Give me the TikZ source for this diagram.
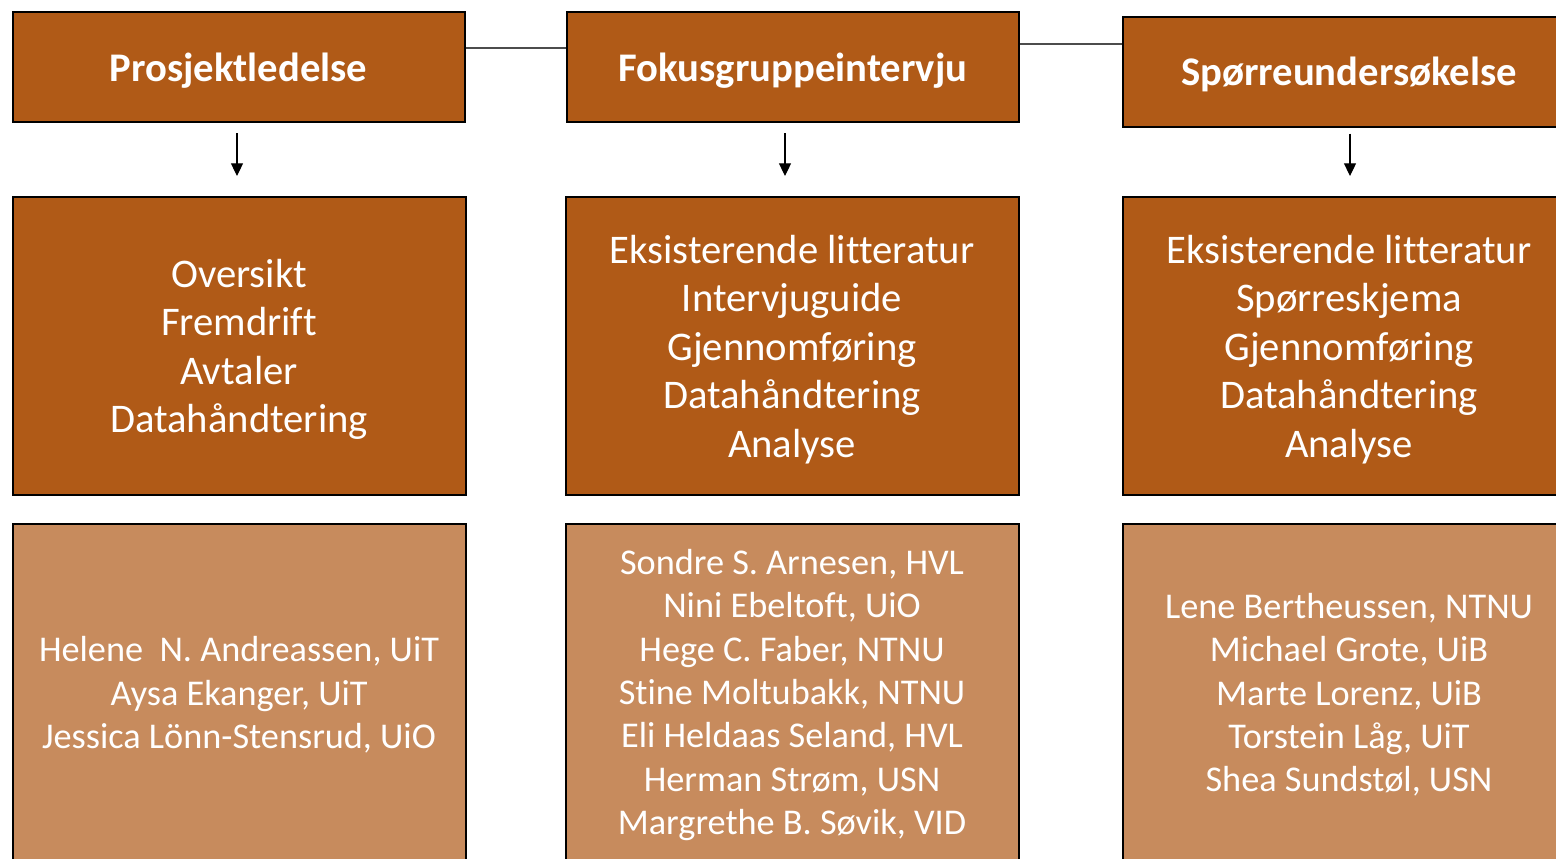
\documentclass[tikz,border=0pt]{standalone}
\usepackage{fontspec}
\setmainfont{Carlito}[Ligatures=NoCommon]
\usepackage{tikz}
\usetikzlibrary{positioning, arrows.meta}
\definecolor{rust}{HTML}{B05A17}
\definecolor{tan}{HTML}{C78B5D}
\tikzset{
x=0.75pt, y=-0.75pt, % one unit is one pixel of the layout
box/.style={draw=black, line width=1.5pt, align=center, text=white, inner sep=0pt},
headbox/.style={box, fill=rust, minimum width=452*0.75pt, minimum height=110*0.75pt, text height=21pt, text depth=0pt, font=\fontsize{30.5}{36}\selectfont\bfseries},
taskbox/.style={box, fill=rust, minimum width=453*0.75pt, minimum height=298*0.75pt, text depth=0pt, font=\fontsize{30.5}{36.4}\selectfont},
namebox/.style={box, fill=tan, minimum width=453*0.75pt, minimum height=342*0.75pt, font=\fontsize{27.2}{32.5}\selectfont},
link/.style={draw=black!70, line width=0.8pt}, % thin line between the headings
arr/.style={-{Triangle[width=9pt,length=9.5pt]}, line width=0.8pt, shorten <=10*0.75pt, shorten >=20*0.75pt},
}
\begin{document}
\begin{tikzpicture}
            \useasboundingbox (0,0) rectangle (1556,858);
            \node[headbox] (pl) at (238.5,67) {Prosjektledelse};
            \node[headbox] (fg) at (793,67) {Fokusgruppeintervju};
            \node[headbox] (sp) at (1349,71.5) {Spørreundersøkelse};
            \node[taskbox] (ov) at (239,346) {Oversikt\\Fremdrift\\Avtaler\\Datahåndtering};
            \node[taskbox] (fl) at (792,346) {Eksisterende litteratur\\Intervjuguide\\Gjennomføring\\Datahåndtering\\Analyse};
            \node[taskbox] (sl) at (1349,346) {Eksisterende litteratur\\Spørreskjema\\Gjennomføring\\Datahåndtering\\Analyse};
            \node[namebox, below=27*0.75pt of ov] (pln) {Helene\ \ N. Andreassen, UiT\\Aysa Ekanger, UiT\\Jessica Lönn-Stensrud, UiO};
            \node[namebox, below=27*0.75pt of fl] (fgn) {Sondre S. Arnesen, HVL\\Nini Ebeltoft, UiO\\Hege C. Faber, NTNU\\Stine Moltubakk, NTNU\\Eli Heldaas Seland, HVL\\Herman Strøm, USN\\Margrethe B. Søvik, VID};
            \node[namebox, below=27*0.75pt of sl] (spn) {Lene Bertheussen, NTNU\\Michael Grote, UiB\\Marte Lorenz, UiB\\Torstein Låg, UiT\\Shea Sundstøl, USN};
            \draw[link] ([yshift=14.25pt]pl.east) -- ([yshift=14.25pt]pl.east -| fg.west);
            \draw[link] ([yshift=17.25pt]fg.east) -- ([yshift=17.25pt]fg.east -| sp.west);
            \draw[arr] ([xshift=-1.5*0.75pt]pl.south) -- ([xshift=-1.5*0.75pt]pl.south |- ov.north);
            \draw[arr] ([xshift=-8*0.75pt]fg.south) -- ([xshift=-8*0.75pt]fg.south |- fl.north);
            \draw[arr, shorten <=6*0.75pt] ([xshift=1*0.75pt]sp.south) -- ([xshift=1*0.75pt]sp.south |- sl.north);
\end{tikzpicture}
\end{document}
